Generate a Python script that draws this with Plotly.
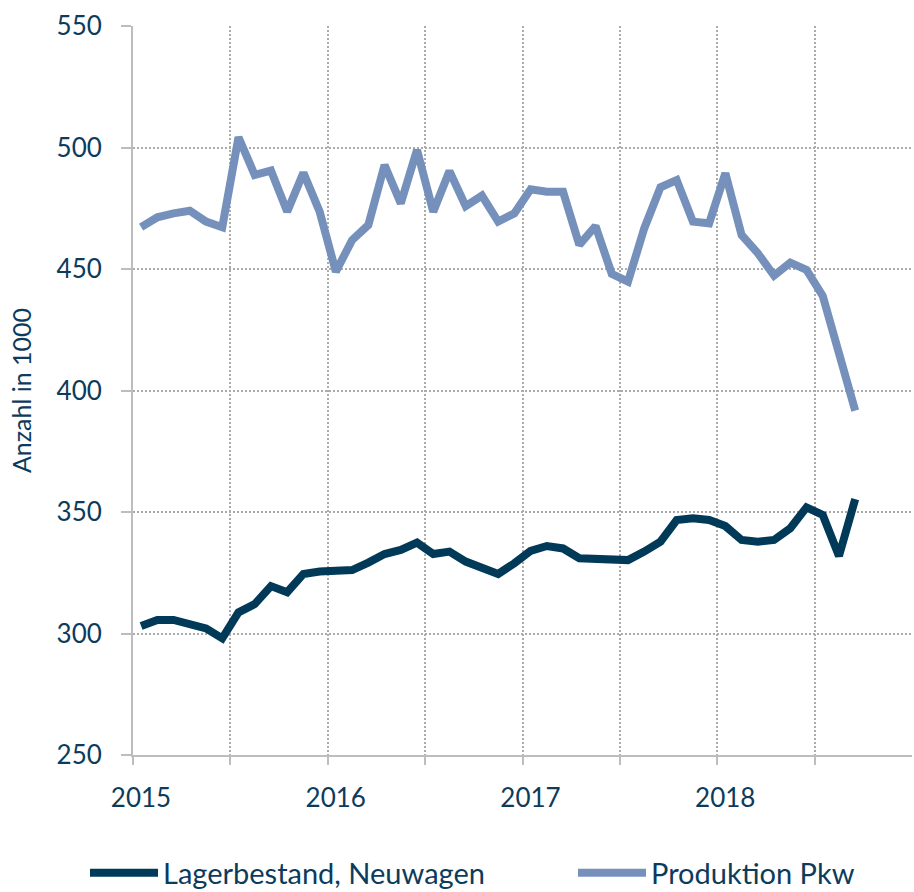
import plotly.graph_objects as go

# Monthly data, Jan 2015 - Sep 2018 (values in 1000)
months = [f"{y}-{m:02d}" for y in (2015, 2016, 2017, 2018) for m in range(1, 13)][:45]

lagerbestand = [303.1, 305.6, 305.6, 303.9, 302.1, 298.0, 308.7, 312.1, 319.5, 317.0, 324.5, 325.5,
                326.1, 326.1, 329.2, 332.7, 334.4, 337.4, 332.7, 333.7, 329.6, 327.2, 324.5, 328.9,
                334.0, 336.0, 335.0, 331.0, 331.0, 331.0, 330.2, 333.7, 337.8, 346.7, 347.4, 346.7,
                344.2, 338.5, 337.8, 338.5, 343.3, 351.9, 348.8, 331.9, 355.3]

produktion = [467.2, 471.3, 472.9, 474.0, 469.5, 467.2, 504.2, 488.7, 490.5, 473.6, 489.6, 473.6,
              448.9, 461.9, 468.1, 492.8, 477.0, 499.0, 473.6, 490.3, 475.9, 480.2, 469.5, 472.9,
              482.8, 481.8, 481.8, 459.9, 467.7, 448.0, 444.8, 466.7, 483.6, 486.6, 469.5, 468.8,
              489.4, 464.0, 456.5, 447.3, 452.6, 449.6, 438.9, 416.7, 391.7]

series_names = ["Lagerbestand, Neuwagen", "Produktion Pkw"]
year_labels = ["2015", "", "2016", "", "2017", "", "2018", ""]
y_ticks = [250, 300, 350, 400, 450, 500, 550]

dark = "#003A58"
light = "#7590BB"
text_col = "#0D3B5C"
grid_col = "#ABABAB"
axis_col = "#BDBDBD"

x_idx = list(range(len(months)))
half_year_ticks = [i - 0.5 for i in range(0, 48, 6)]

fig = go.Figure()
fig.add_trace(go.Scatter(x=x_idx, y=lagerbestand, mode="lines", name=series_names[0],
                         line=dict(color=dark, width=8), text=months, legend="legend",
                         hovertemplate="%{text}: %{y}<extra></extra>"))
fig.add_trace(go.Scatter(x=x_idx, y=produktion, mode="lines", name=series_names[1],
                         line=dict(color=light, width=8), text=months, legend="legend2",
                         hovertemplate="%{text}: %{y}<extra></extra>"))

leg_common = dict(orientation="h", xref="container", yref="container", yanchor="middle",
                  xanchor="left", font=dict(size=29, color=text_col), itemwidth=68,
                  bgcolor="rgba(0,0,0,0)")

fig.update_layout(
    width=914, height=892,
    margin=dict(l=133, r=2, t=26, b=137, autoexpand=False),
    paper_bgcolor="white", plot_bgcolor="white",
    font=dict(family="Lato", color=text_col, size=26),
    showlegend=True,
    legend=dict(x=85 / 914, y=1 - 873 / 892, **leg_common),
    legend2=dict(x=573 / 914, y=1 - 873 / 892, **leg_common),
)
fig.update_xaxes(
    range=[-0.5, 47.5], tickmode="array", tickvals=half_year_ticks, ticktext=year_labels,
    ticklabelshift=8, ticklabelstandoff=11, ticks="outside", ticklen=8, tickwidth=2,
    tickcolor=axis_col,
    showgrid=True, gridcolor=grid_col, gridwidth=2, griddash="2px,2px",
    showline=True, linecolor=axis_col, linewidth=2, zeroline=False,
    tickfont=dict(size=26, color=text_col),
)
fig.update_yaxes(
    range=[250, 550], tickmode="array", tickvals=y_ticks,
    ticks="outside", ticklen=10, tickwidth=2, tickcolor=axis_col, ticklabelstandoff=14,
    showgrid=True, gridcolor=grid_col, gridwidth=2, griddash="2px,2px",
    showline=True, linecolor=axis_col, linewidth=2, zeroline=False,
    tickfont=dict(size=26, color=text_col),
    title=dict(text="Anzahl in 1000", font=dict(size=25, color=text_col), standoff=18),
)

fig.write_html(
    "out.html",
    config={"displayModeBar": False},
    post_script="document.body.style.margin='0';document.body.style.overflow='hidden';",
)
